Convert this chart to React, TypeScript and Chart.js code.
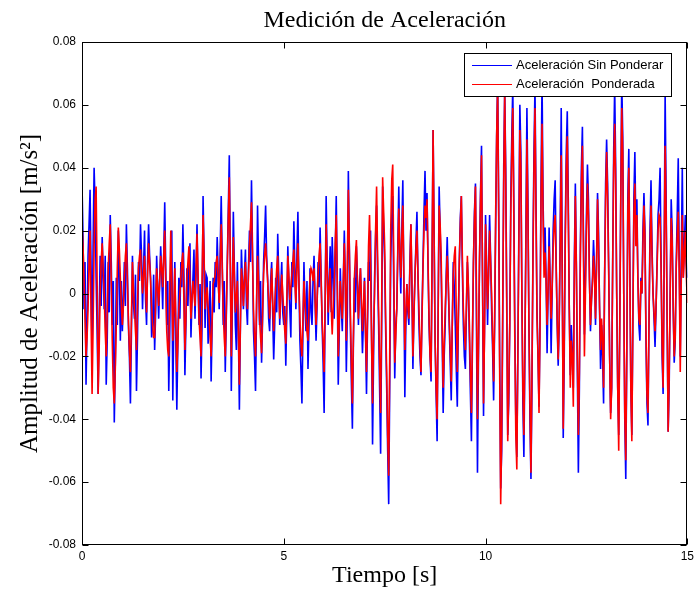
import { useEffect, useRef } from "react";
import { Chart, registerables } from "chart.js";

Chart.register(...registerables);

// Sampling interval of the recorded signals, in seconds.
const SAMPLE_STEP = 0.025;

const X_MIN = 0;
const X_MAX = 15;
const X_TICK_STEP = 5;
const Y_MIN = -0.08;
const Y_MAX = 0.08;
const Y_TICK_STEP = 0.02;

const TITLE = "Medición de Aceleración";
const X_TITLE = "Tiempo [s]";
const Y_TITLE = "Amplitud de Aceleración [m/s²]";

const LABEL_SIN_PONDERAR = "Aceleración Sin Ponderar";
const LABEL_PONDERADA = "Aceleración  Ponderada";

// Unweighted acceleration [m/s²], one row per second.
const sinPonderar = [
  0.035, 0.018, -0.005, 0.01, -0.029, -0.01, 0.012, 0.022, 0.033, 0.008, -0.02, 0.015, 0.04, 0.028, 0.005, -0.012, -0.032, -0.008, 0.012, -0.004,
  0.018, 0.006, -0.005, 0.012, -0.029, -0.015, 0.01, -0.006, 0.025, 0.01, -0.01, 0.004, -0.041, -0.022, 0.005, -0.01, 0.02, 0.008, -0.015, 0.004,
  -0.012, -0.002, 0.01, -0.004, 0.022, 0.008, -0.01, -0.02, -0.035, -0.012, 0.012, -0.003, -0.008, 0.006, -0.031, -0.014, 0.01, 0.004, 0.022, 0.012,
  -0.005, 0.008, 0.02, -0.002, -0.01, 0.01, 0.022, 0.012, 0.005, -0.014, -0.01, 0.006, -0.018, -0.006, 0.012, 0.002, -0.008, 0.004, 0.015, 0.006,
  -0.005, 0.012, 0.029, 0.008, -0.01, 0.004, -0.031, -0.012, 0.012, 0.02, -0.034, -0.008, 0.01, -0.015, -0.037, -0.016, 0.005, -0.008, 0.01, 0.002,
  0.022, 0.006, -0.026, -0.01, 0.008, -0.004, 0.01, 0.016, -0.014, -0.002, 0.005, 0.014, -0.008, 0.006, 0.022, 0.004, -0.01, 0.003, -0.027, -0.01,
  0.031, 0.012, -0.011, 0.006, 0.005, -0.016, -0.01, 0.004, -0.028, -0.01, 0.005, -0.006, 0.01, 0.002, 0.018, 0.006, -0.005, 0.014, 0.031, 0.01,
  -0.01, 0.004, -0.025, -0.008, 0.01, 0.026, 0.044, 0.012, -0.031, -0.004, 0.026, 0.008, -0.01, -0.018, 0.01, -0.012, -0.037, -0.01, 0.014, 0.004,
  -0.005, 0.006, 0.014, -0.004, -0.01, 0.008, 0.02, 0.01, 0.036, 0.014, -0.012, -0.02, -0.031, -0.006, 0.028, 0.01, -0.01, 0.004, -0.022, -0.008,
  0.01, 0.018, 0.028, 0.012, 0.005, -0.008, -0.012, 0.004, 0.01, -0.006, -0.021, -0.01, 0.005, -0.006, 0.019, 0.006, -0.01, 0.002, 0.01, -0.006,
  -0.01, -0.004, -0.023, -0.006, 0.015, 0.004, -0.005, -0.014, 0.01, 0.002, 0.023, 0.008, -0.005, 0.012, 0.026, 0.004, -0.015, -0.024, -0.035, -0.012,
  0.01, -0.004, -0.012, 0.004, -0.024, -0.01, 0.008, -0.006, -0.01, 0.004, 0.012, -0.002, -0.015, -0.004, 0.01, 0.002, 0.021, 0.006, -0.01, -0.022,
  -0.038, -0.004, 0.031, 0.01, -0.01, 0.004, 0.015, -0.006, 0.018, 0.006, -0.008, 0.012, 0.031, 0.004, -0.029, -0.012, 0.008, -0.004, -0.012, 0.004,
  0.02, 0.004, -0.025, -0.006, 0.039, 0.014, -0.01, -0.028, -0.043, -0.016, 0.005, -0.006, 0.015, 0.004, -0.01, 0.002, 0.008, -0.006, -0.019, -0.008,
  0.005, -0.012, -0.032, -0.01, 0.01, 0.004, 0.02, -0.012, -0.048, -0.02, 0.005, 0.018, 0.028, 0.006, -0.01, -0.03, -0.051, -0.012, 0.034, 0.02,
  0.01, -0.012, -0.03, -0.05, -0.067, -0.03, 0.01, 0.024, 0.031, 0.002, -0.027, -0.01, -0.005, 0.014, 0.034, 0.012, 0.0, 0.02, 0.036, 0.004,
  -0.033, -0.01, 0.003, -0.006, -0.01, 0.01, 0.022, 0.002, -0.024, -0.006, 0.005, 0.016, 0.026, 0.006, -0.01, -0.02, -0.026, -0.006, 0.01, 0.026,
  0.039, 0.02, 0.032, 0.008, -0.01, -0.02, -0.028, 0.01, 0.052, 0.02, -0.015, -0.032, -0.047, -0.006, 0.034, 0.02, 0.008, -0.014, -0.038, -0.02,
  -0.01, 0.006, 0.018, 0.004, -0.01, -0.022, -0.034, -0.01, 0.01, 0.002, -0.01, -0.024, -0.036, -0.01, 0.01, 0.024, 0.031, 0.008, -0.01, -0.02,
  -0.024, -0.006, 0.01, 0.002, -0.015, -0.032, -0.047, -0.016, 0.01, 0.026, 0.035, -0.01, -0.057, -0.02, 0.01, 0.032, 0.047, 0.004, -0.039, -0.01,
  0.025, 0.01, -0.01, 0.006, 0.025, 0.012, -0.005, -0.018, -0.034, -0.01, 0.02, 0.05, 0.068, 0.03, -0.02, -0.062, -0.05, -0.01, 0.04, 0.065,
  0.04, 0.0, -0.045, -0.035, -0.01, 0.03, 0.05, 0.066, 0.03, -0.01, -0.04, -0.052, -0.02, 0.02, 0.06, 0.045, 0.0, -0.035, -0.052, -0.02,
  0.02, 0.059, 0.03, -0.01, -0.04, -0.059, -0.03, 0.015, 0.045, 0.066, 0.03, -0.005, -0.02, -0.036, -0.01, 0.035, 0.068, 0.03, 0.01, 0.021,
  0.005, -0.019, 0.0, 0.021, 0.004, -0.019, 0.0, 0.02, 0.03, 0.036, 0.01, -0.01, -0.023, -0.01, 0.02, 0.059, 0.01, -0.046, -0.02, 0.02,
  0.045, 0.058, 0.03, -0.005, -0.026, -0.01, -0.02, -0.03, 0.01, 0.035, 0.01, -0.025, -0.057, -0.03, 0.015, 0.04, 0.053, 0.02, -0.013, 0.005,
  0.025, 0.041, 0.03, 0.005, -0.012, -0.002, 0.005, 0.017, 0.008, -0.01, 0.01, 0.032, 0.02, -0.005, -0.024, -0.01, -0.02, -0.035, 0.005, 0.035,
  0.049, 0.035, 0.01, -0.02, -0.038, -0.03, 0.01, 0.045, 0.066, 0.04, 0.0, -0.03, -0.045, -0.01, 0.03, 0.068, 0.05, 0.0, -0.04, -0.059,
  -0.02, 0.03, 0.046, 0.01, -0.03, -0.045, -0.01, 0.03, 0.045, 0.02, 0.03, 0.005, -0.01, -0.015, 0.005, 0.0, 0.02, 0.032, 0.02, -0.015,
  -0.035, -0.042, -0.01, 0.02, 0.036, 0.015, 0.0, -0.008, -0.017, -0.005, 0.01, 0.025, 0.03, 0.04, 0.01, -0.02, -0.032, 0.01, 0.064, 0.03,
  -0.01, -0.044, -0.03, 0.0, 0.03, 0.02, -0.005, -0.022, -0.015, 0.01, 0.025, 0.043, 0.01, -0.02, 0.01, 0.04, 0.005, 0.015, 0.025, 0.01, 0.005,
];

// Frequency-weighted acceleration [m/s²], one row per second.
const ponderada = [
  0.022, 0.015, 0.005, -0.008, -0.02, -0.014, -0.005, 0.01, 0.02, -0.008, -0.032, -0.01, 0.015, 0.03, 0.034, 0.004, -0.032, -0.018, 0.0, 0.01,
  0.016, 0.008, 0.0, -0.012, -0.02, -0.006, 0.008, 0.016, 0.022, 0.004, -0.015, -0.03, -0.035, -0.024, -0.01, 0.008, 0.021, 0.014, 0.005, -0.004,
  -0.01, -0.004, 0.005, 0.012, 0.016, 0.004, -0.008, -0.018, -0.025, -0.008, 0.01, 0.002, -0.005, -0.012, -0.018, -0.004, 0.008, 0.012, 0.014, 0.006,
  0.0, 0.006, 0.012, 0.002, -0.006, 0.006, 0.016, 0.01, 0.004, -0.004, -0.01, -0.014, -0.014, -0.002, 0.008, 0.002, -0.004, 0.004, 0.012, 0.008,
  0.002, 0.012, 0.02, 0.004, -0.012, -0.018, -0.02, 0.002, 0.02, 0.004, -0.015, -0.006, 0.008, -0.008, -0.025, -0.016, -0.005, 0.0, 0.005, 0.01,
  0.013, -0.002, -0.018, -0.008, 0.005, 0.01, 0.015, 0.004, -0.008, -0.002, 0.004, 0.0, -0.004, 0.008, 0.019, 0.006, -0.008, -0.014, -0.02, 0.004,
  0.025, 0.012, -0.005, -0.002, 0.002, -0.004, -0.008, -0.014, -0.02, -0.008, 0.003, 0.004, 0.006, 0.01, 0.012, 0.004, -0.003, 0.01, 0.022, 0.008,
  -0.006, -0.014, -0.02, -0.006, 0.008, 0.024, 0.037, 0.01, -0.02, 0.0, 0.018, 0.006, -0.006, -0.001, 0.004, -0.012, -0.029, -0.01, 0.008, 0.004,
  -0.004, 0.004, 0.01, 0.002, -0.005, 0.006, 0.015, 0.022, 0.029, 0.012, -0.005, -0.014, -0.02, -0.004, 0.012, 0.004, -0.008, -0.014, -0.019, -0.006,
  0.006, 0.012, 0.016, 0.01, 0.004, -0.002, -0.008, 0.0, 0.008, -0.002, -0.012, -0.004, 0.002, 0.008, 0.012, 0.002, -0.008, -0.002, 0.006, 0.0,
  -0.006, -0.012, -0.016, -0.002, 0.012, 0.006, -0.002, 0.002, 0.006, 0.01, 0.014, 0.004, -0.003, 0.008, 0.016, 0.004, -0.008, -0.016, -0.02, -0.008,
  0.004, -0.002, -0.008, -0.012, -0.015, -0.004, 0.005, 0.008, 0.007, 0.004, 0.008, -0.002, -0.01, -0.002, 0.006, 0.012, 0.016, 0.004, -0.008, -0.016,
  -0.025, -0.002, 0.022, 0.008, -0.006, 0.002, 0.008, -0.004, -0.013, -0.004, 0.004, 0.016, 0.025, 0.004, -0.02, -0.008, 0.004, -0.002, -0.008, 0.004,
  0.016, 0.002, -0.015, 0.01, 0.033, 0.014, -0.005, -0.022, -0.035, -0.014, 0.005, 0.012, 0.017, 0.004, -0.008, 0.0, 0.008, -0.002, -0.012, -0.004,
  0.004, -0.012, -0.025, -0.006, 0.015, 0.025, 0.01, -0.015, -0.035, -0.012, 0.0, 0.02, 0.034, 0.012, -0.005, -0.022, -0.038, -0.005, 0.037, 0.026,
  0.015, -0.008, -0.025, -0.045, -0.058, -0.02, 0.02, 0.036, 0.041, 0.01, -0.022, -0.014, -0.005, 0.012, 0.027, 0.014, 0.005, 0.018, 0.028, 0.006,
  -0.018, -0.006, 0.003, -0.004, -0.008, 0.008, 0.022, 0.004, -0.02, -0.008, 0.005, 0.014, 0.02, 0.006, -0.005, -0.016, -0.025, -0.008, 0.008, 0.02,
  0.028, 0.024, 0.03, 0.01, -0.008, -0.02, -0.025, 0.012, 0.052, 0.018, -0.015, -0.03, -0.04, -0.008, 0.028, 0.022, 0.012, -0.01, -0.03, -0.016,
  -0.005, 0.004, 0.012, 0.004, -0.008, -0.018, -0.028, -0.01, 0.006, 0.012, 0.015, -0.006, -0.025, -0.008, 0.01, 0.022, 0.031, 0.012, -0.005, -0.012,
  -0.018, -0.004, 0.012, 0.002, -0.01, -0.026, -0.038, -0.014, 0.01, 0.024, 0.034, 0.0, -0.04, -0.016, 0.01, 0.03, 0.044, 0.006, -0.035, -0.012,
  0.022, 0.008, -0.005, 0.006, 0.02, 0.01, 0.0, -0.014, -0.028, -0.008, 0.025, 0.05, 0.066, 0.025, -0.025, -0.067, -0.045, -0.005, 0.035, 0.064,
  0.035, -0.005, -0.047, -0.03, -0.01, 0.025, 0.045, 0.059, 0.025, -0.015, -0.045, -0.056, -0.02, 0.015, 0.052, 0.04, 0.0, -0.03, -0.045, -0.015,
  0.015, 0.049, 0.025, -0.01, -0.035, -0.057, -0.025, 0.01, 0.04, 0.059, 0.025, -0.008, -0.02, -0.038, -0.01, 0.03, 0.054, 0.025, 0.005, 0.013,
  0.004, -0.01, 0.002, 0.015, 0.004, -0.008, 0.002, 0.014, 0.022, 0.025, 0.008, -0.008, -0.021, -0.008, 0.015, 0.044, 0.005, -0.043, -0.015, 0.015,
  0.04, 0.05, 0.025, -0.005, -0.03, -0.015, -0.02, -0.036, 0.005, 0.031, 0.008, -0.02, -0.045, -0.025, 0.012, 0.035, 0.047, 0.015, -0.02, 0.0,
  0.02, 0.035, 0.025, 0.004, -0.01, -0.002, 0.003, 0.012, 0.006, -0.008, 0.008, 0.03, 0.015, -0.004, -0.018, -0.008, -0.015, -0.03, 0.004, 0.03,
  0.045, 0.03, 0.008, -0.02, -0.04, -0.03, 0.008, 0.04, 0.054, 0.035, 0.0, -0.03, -0.05, -0.012, 0.028, 0.059, 0.045, 0.0, -0.038, -0.053,
  -0.018, 0.025, 0.04, 0.008, -0.03, -0.047, -0.01, 0.025, 0.035, 0.015, 0.025, 0.004, -0.008, -0.01, 0.004, 0.0, 0.015, 0.028, 0.018, -0.012,
  -0.032, -0.038, -0.008, 0.015, 0.028, 0.012, 0.0, -0.006, -0.012, -0.004, 0.008, 0.02, 0.025, 0.024, 0.008, -0.016, -0.03, 0.008, 0.047, 0.025,
  -0.008, -0.044, -0.026, 0.0, 0.024, 0.016, -0.004, -0.02, -0.014, 0.008, 0.018, 0.026, 0.006, -0.025, 0.004, 0.025, 0.005, 0.012, 0.02, 0.006, -0.003,
];

const SANS = 'Arial, "Liberation Sans", sans-serif';
const SERIF = '"Times New Roman", "Liberation Serif", serif';

const toPoints = (values: number[]) =>
  values.map((v, i) => ({ x: Math.round(i * SAMPLE_STEP * 1000) / 1000, y: v }));

const fmtTick = (v: any) => String(Math.round(Number(v) * 100) / 100);

// Draws the boxed axes with inward ticks on all four sides and the legend inside the plot.
const framePlugin = {
  id: "boxedFrame",
  afterDraw(chart: any) {
    const { ctx, chartArea, scales } = chart;
    const { left, right, top, bottom } = chartArea;
    const xs = scales.x;
    const ys = scales.y;
    const L = Math.round(left) + 0.5;
    const R = Math.round(right) - 0.5;
    const T = Math.round(top) + 0.5;
    const B = Math.round(bottom) - 0.5;
    const tickLen = 6;

    ctx.save();
    ctx.strokeStyle = "#000";
    ctx.lineWidth = 1;
    ctx.beginPath();
    xs.ticks.forEach((t: any) => {
      const px = Math.round(xs.getPixelForValue(t.value)) + 0.5;
      ctx.moveTo(px, B);
      ctx.lineTo(px, B - tickLen);
      ctx.moveTo(px, T);
      ctx.lineTo(px, T + tickLen);
    });
    ys.ticks.forEach((t: any) => {
      const py = Math.round(ys.getPixelForValue(t.value)) + 0.5;
      ctx.moveTo(L, py);
      ctx.lineTo(L + tickLen, py);
      ctx.moveTo(R, py);
      ctx.lineTo(R - tickLen, py);
    });
    ctx.stroke();
    ctx.strokeRect(L, T, R - L, B - T);

    // Legend
    const datasets = chart.data.datasets;
    ctx.font = `13px ${SANS}`;
    const textW = Math.max(...datasets.map((d: any) => ctx.measureText(d.label).width));
    const padL = 8;
    const sampleLen = 40;
    const gap = 4;
    const padR = 8;
    const rowH = 19;
    const boxW = Math.round(padL + sampleLen + gap + textW + padR);
    const boxH = 43;
    const boxRight = Math.round(right) - 16;
    const boxLeft = boxRight - boxW;
    const boxTop = Math.round(top) + 11;
    ctx.fillStyle = "#fff";
    ctx.fillRect(boxLeft, boxTop, boxW, boxH);
    ctx.strokeStyle = "#000";
    ctx.strokeRect(boxLeft + 0.5, boxTop + 0.5, boxW, boxH);
    datasets.forEach((d: any, i: number) => {
      const yy = boxTop + 12 + i * rowH + 0.5;
      ctx.strokeStyle = d.borderColor;
      ctx.lineWidth = 1;
      ctx.beginPath();
      ctx.moveTo(boxLeft + padL, yy);
      ctx.lineTo(boxLeft + padL + sampleLen, yy);
      ctx.stroke();
      ctx.fillStyle = "#000";
      ctx.textBaseline = "middle";
      ctx.textAlign = "left";
      ctx.fillText(d.label, boxLeft + padL + sampleLen + gap, yy);
    });
    ctx.restore();
  },
};

export default function App() {
  const canvasRef = useRef<HTMLCanvasElement | null>(null);

  useEffect(() => {
    const canvas = canvasRef.current;
    if (!canvas) return;
    const chart = new Chart(canvas, {
      type: "line",
      data: {
        datasets: [
          {
            label: LABEL_SIN_PONDERAR,
            data: toPoints(sinPonderar),
            borderColor: "#0000ff",
            backgroundColor: "#0000ff",
            borderWidth: 1.6,
            pointRadius: 0,
            tension: 0,
            fill: false,
            order: 2,
          },
          {
            label: LABEL_PONDERADA,
            data: toPoints(ponderada),
            borderColor: "#ff0000",
            backgroundColor: "#ff0000",
            borderWidth: 1.6,
            pointRadius: 0,
            tension: 0,
            fill: false,
            order: 1,
          },
        ],
      },
      options: {
        responsive: false,
        animation: false,
        events: [],
        layout: { padding: { left: 0, right: 8, top: 0, bottom: 0 } },
        plugins: {
          legend: { display: false },
          tooltip: { enabled: false },
          title: {
            display: true,
            fullSize: false,
            text: TITLE,
            color: "#000",
            font: { family: SERIF, size: 24, weight: "normal" },
            padding: { top: 6, bottom: 7.2 },
          },
        },
        scales: {
          x: {
            type: "linear",
            min: X_MIN,
            max: X_MAX,
            grid: { display: false, drawTicks: false },
            border: { display: false },
            ticks: {
              stepSize: X_TICK_STEP,
              color: "#000",
              padding: 4,
              maxRotation: 0,
              font: { family: SANS, size: 12 },
              callback: fmtTick,
            },
            title: {
              display: true,
              text: X_TITLE,
              color: "#000",
              font: { family: SERIF, size: 24 },
              padding: { top: 0, bottom: 0 },
            },
            afterFit: (s: any) => {
              s.height = 45;
            },
          },
          y: {
            type: "linear",
            min: Y_MIN,
            max: Y_MAX,
            grid: { display: false, drawTicks: false },
            border: { display: false },
            ticks: {
              stepSize: Y_TICK_STEP,
              color: "#000",
              padding: 6,
              font: { family: SANS, size: 12 },
              callback: fmtTick,
            },
            title: {
              display: true,
              text: Y_TITLE,
              color: "#000",
              font: { family: SERIF, size: 25 },
              padding: { top: 15, bottom: 0 },
            },
            afterFit: (s: any) => {
              s.width = 82;
            },
          },
        },
      },
      plugins: [framePlugin],
    });
    return () => chart.destroy();
  }, []);

  return (
    <div style={{ position: "absolute", left: 0, top: 0, width: 698, height: 590, background: "#fff" }}>
      <canvas ref={canvasRef} width={698} height={590} style={{ display: "block" }} />
    </div>
  );
}
